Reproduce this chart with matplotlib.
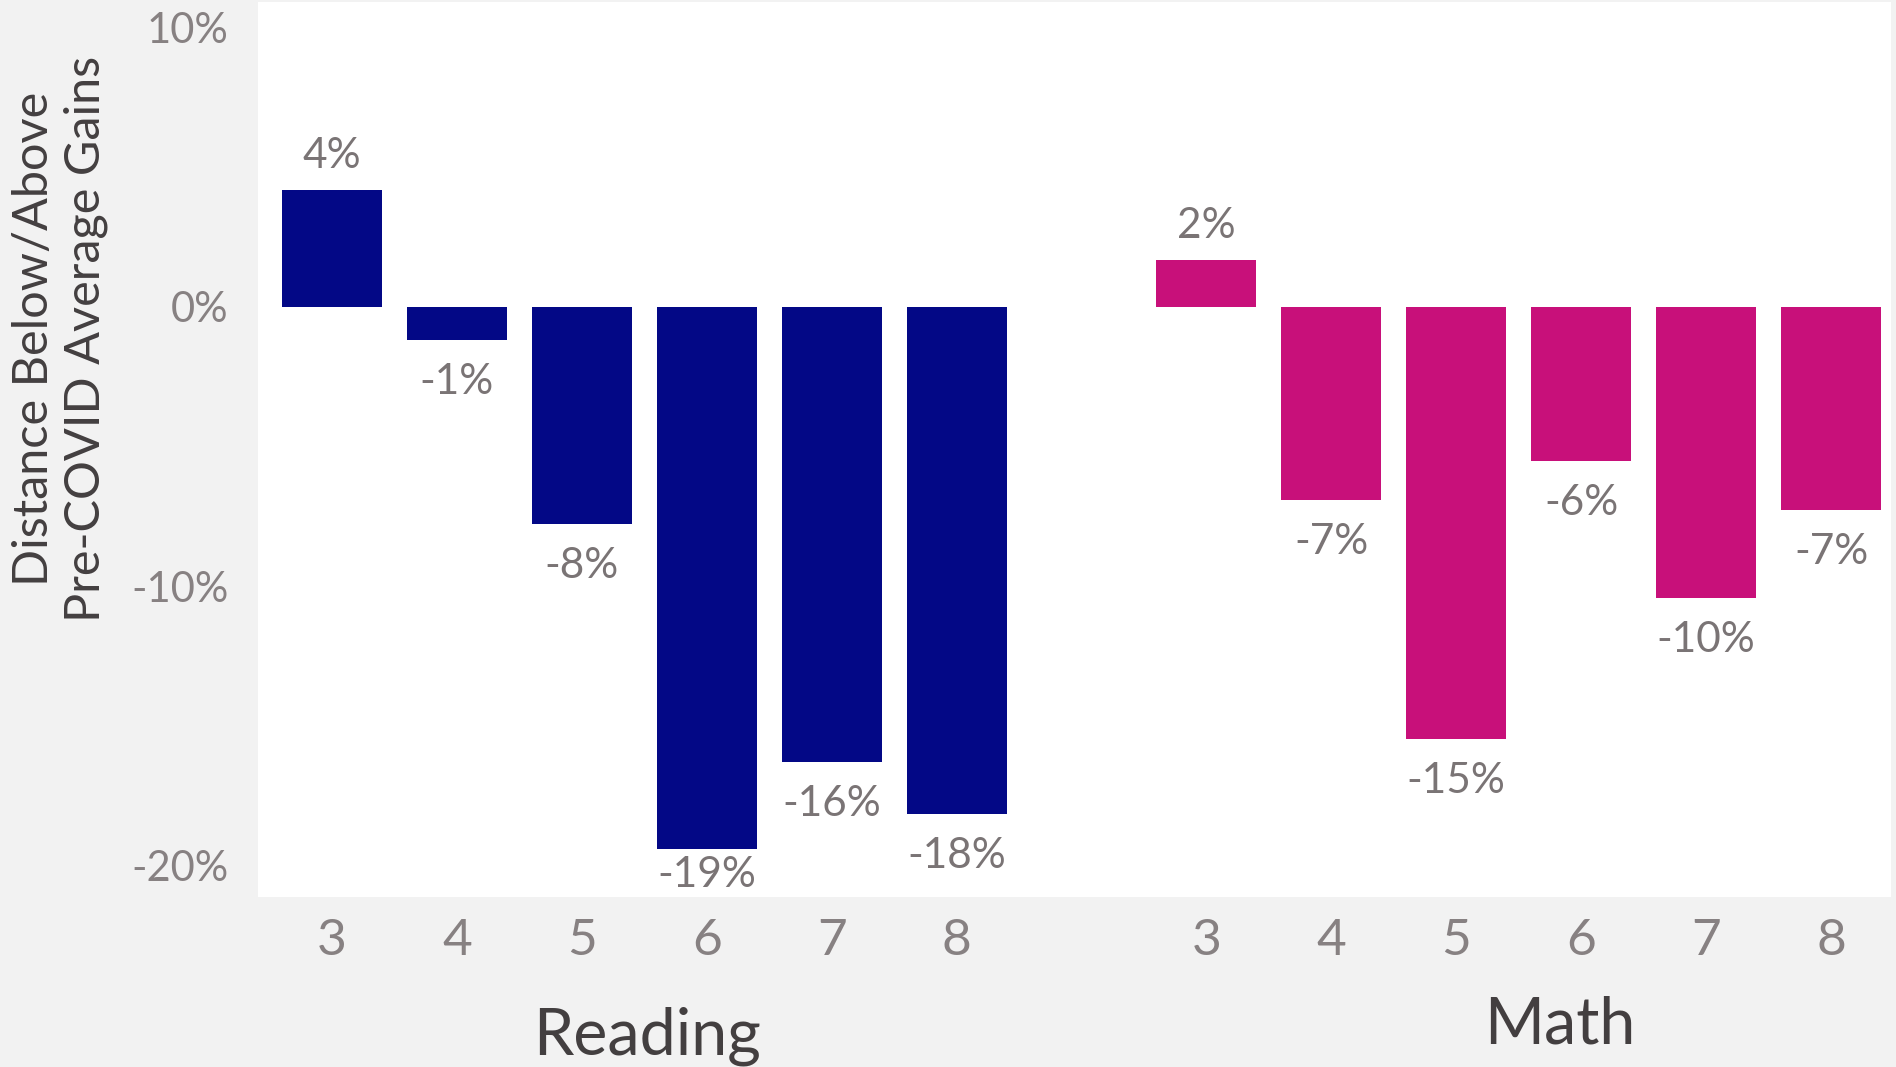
import matplotlib
matplotlib.use("Agg")
import matplotlib.pyplot as plt
from matplotlib.transforms import offset_copy

plt.rcParams["font.family"] = ["Lato", "DejaVu Sans"]

# Data: distance below/above pre-COVID average gains (%), by grade
grades = ["3", "4", "5", "6", "7", "8"]
reading_values = [4.18, -1.19, -7.76, -19.39, -16.29, -18.14]
math_values = [1.67, -6.91, -15.45, -5.51, -10.41, -7.26]
subjects = ["Reading", "Math"]
y_ticks = [10, 0, -10, -20]
y_tick_labels = ["10%", "0%", "-10%", "-20%"]

reading_color = "#030886"
math_color = "#C8107A"
bg_color = "#F2F2F2"
label_gray = "#7A7475"
tick_gray = "#878182"
title_gray = "#433F40"

W, H = 1896, 1067
fig = plt.figure(figsize=(W / 100, H / 100), dpi=100, facecolor=bg_color)

left, right, top, bottom = 258, 1891, 2, 897
ax = fig.add_axes([left / W, 1 - bottom / H, (right - left) / W, (bottom - top) / H])
ax.set_facecolor("white")
for s in ax.spines.values():
    s.set_visible(False)

n = len(grades)
reading_x = list(range(n))
math_x = [i + n + 1 for i in range(n)]

ax.bar(reading_x, reading_values, width=0.80, color=reading_color)
ax.bar(math_x, math_values, width=0.80, color=math_color)

ax.set_xlim(-0.592, 12.48)
ax.set_ylim(-21.12, 10.90)

ax.set_yticks(y_ticks)
ax.set_yticklabels(y_tick_labels, fontsize=30, color=tick_gray)
ax.set_xticks(reading_x + math_x)
ax.set_xticklabels(grades + grades, fontsize=37, color=tick_gray)
ax.tick_params(axis="y", length=0, pad=21)
ax.tick_params(axis="x", length=0, pad=15)

# Value labels: above positive bars, below negative bars (kept inside the axes)
ax_bottom_px = fig.transFigure.transform((0, 1 - bottom / H))[1]
for xs, vals in ((reading_x, reading_values), (math_x, math_values)):
    for x, v in zip(xs, vals):
        text = f"{v:.0f}%"
        if v >= 0:
            tr = offset_copy(ax.transData, fig=fig, x=0, y=22, units="dots")
            ax.text(x, v, text, transform=tr, ha="center", va="baseline",
                    fontsize=30.5, color=label_gray)
        else:
            end_px = ax.transData.transform((x, v))[1]
            baseline_px = end_px - 23 - 31
            if baseline_px < ax_bottom_px + 10:
                baseline_px = ax_bottom_px + 10
            dy = baseline_px - end_px
            tr = offset_copy(ax.transData, fig=fig, x=0, y=dy, units="dots")
            ax.text(x, v, text, transform=tr, ha="center", va="baseline",
                    fontsize=30.5, color=label_gray)

# Subject labels under the grade ticks
fig.text(647 / W, 1 - 1055 / H, subjects[0], ha="center", va="baseline",
         fontsize=46.5, color=title_gray)
fig.text(1560 / W, 1 - 1043 / H, subjects[1], ha="center", va="baseline",
         fontsize=46.5, color=title_gray)

# Y-axis title
fig.text(60 / W, 1 - 339 / H, "Distance Below/Above\nPre-COVID Average Gains",
         rotation=90, ha="center", va="center", multialignment="center",
         fontsize=35, color=title_gray, linespacing=1.2)

fig.savefig("out.png", dpi=100, facecolor=bg_color)
